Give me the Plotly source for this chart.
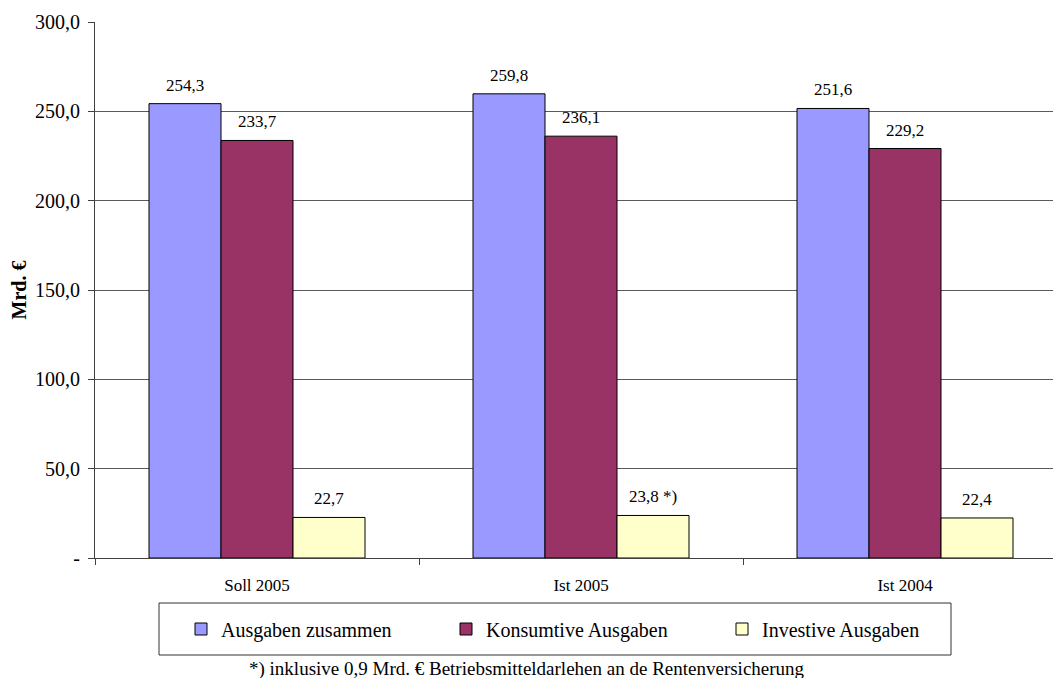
import plotly.graph_objects as go

categories = ["Soll 2005", "Ist 2005", "Ist 2004"]
series_names = ["Ausgaben zusammen", "Konsumtive Ausgaben", "Investive Ausgaben"]
ausgaben_zusammen = [254.3, 259.8, 251.6]
konsumtive_ausgaben = [233.7, 236.1, 229.2]
investive_ausgaben = [22.7, 23.8, 22.4]
label_zusammen = ["254,3", "259,8", "251,6"]
label_konsumtiv = ["233,7", "236,1", "229,2"]
label_investiv = ["22,7", "23,8 *)", "22,4"]
y_tickvals = [0, 50, 100, 150, 200, 250, 300]
y_ticktext = ["-", "50,0", "100,0", "150,0", "200,0", "250,0", "300,0"]
y_title = "Mrd. €"
footnote = "*) inklusive 0,9 Mrd. € Betriebsmitteldarlehen an de Rentenversicherung"

colors = ["#9999FF", "#993366", "#FFFFCC"]
FONT = "Liberation Serif"

W, H = 1053, 678
ML, MR, MT, MB = 95, 0, 22, 120
plot_w = W - ML - MR
plot_h = H - MT - MB
cat_px = 324.0
x_end = -0.5 + plot_w / cat_px


def px_x(p):
    return (p - ML) / plot_w


def px_y(p):
    return (H - MB - p) / plot_h


bargap = 1 / 3
barw = (1 - bargap) / 3

values = [ausgaben_zusammen, konsumtive_ausgaben, investive_ausgaben]
labels = [label_zusammen, label_konsumtiv, label_investiv]
legend_ids = ["legend", "legend2", "legend3"]

fig = go.Figure()
for j in range(3):
    fig.add_trace(go.Bar(
        x=categories, y=values[j], name=series_names[j],
        marker=dict(color=colors[j], line=dict(color="black", width=1)),
        legend=legend_ids[j], hoverinfo="skip",
    ))

annotations = []
for j in range(3):
    for i, v in enumerate(values[j]):
        annotations.append(dict(
            x=i + (j - 1) * barw, y=v, xref="x", yref="y",
            text=labels[j][i], showarrow=False, yanchor="bottom",
            yshift=7, font=dict(family=FONT, size=17, color="black"),
        ))

annotations.append(dict(
    x=px_x(527), y=px_y(656), xref="paper", yref="paper",
    text=footnote, showarrow=False, xanchor="center", yanchor="top",
    font=dict(family=FONT, size=19, color="black"),
))

leg_common = dict(
    orientation="h", yanchor="middle", xanchor="left",
    y=px_y(629), bgcolor="rgba(0,0,0,0)", borderwidth=0,
    font=dict(family=FONT, size=20, color="black"),
)

fig.update_layout(
    width=W, height=H,
    margin=dict(l=ML, r=MR, t=MT, b=MB, pad=0),
    paper_bgcolor="white", plot_bgcolor="white",
    barmode="group", bargap=bargap, bargroupgap=0,
    font=dict(family=FONT, size=17, color="black"),
    showlegend=True,
    legend=dict(x=px_x(181), **leg_common),
    legend2=dict(x=px_x(446), **leg_common),
    legend3=dict(x=px_x(722), **leg_common),
    annotations=annotations,
    shapes=[dict(
        type="rect", xref="paper", yref="paper",
        x0=px_x(159), x1=px_x(951), y0=px_y(655), y1=px_y(603),
        line=dict(color="#333333", width=1), fillcolor="rgba(0,0,0,0)",
        layer="above",
    )],
    xaxis=dict(
        type="category", range=[-0.5, x_end],
        showline=True, linecolor="#404040", linewidth=1,
        ticks="outside", tickson="boundaries", ticklen=6, tickcolor="#404040",
        showgrid=False, ticklabelstandoff=12,
        tickfont=dict(family=FONT, size=17, color="black"),
        fixedrange=True,
    ),
    yaxis=dict(
        range=[0, 300], tickvals=y_tickvals, ticktext=y_ticktext,
        showline=True, linecolor="#404040", linewidth=1,
        ticks="outside", ticklen=6, tickcolor="#404040",
        showgrid=True, gridcolor="#5a5a5a", gridwidth=1,
        zeroline=False, ticklabelstandoff=4,
        tickfont=dict(family=FONT, size=20, color="black"),
        title=dict(text="<b>" + y_title + "</b>", standoff=3,
                   font=dict(family=FONT, size=20, color="black")),
        fixedrange=True,
    ),
)

fig.write_html("out.html", config={"displayModeBar": False},
               post_script="document.body.style.margin='0';")
